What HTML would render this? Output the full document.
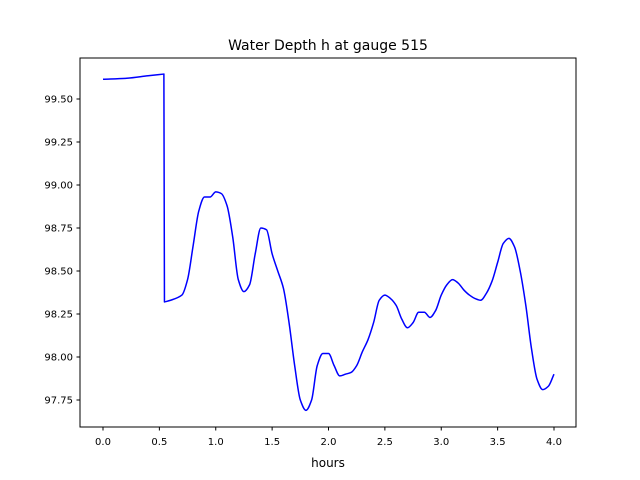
<!DOCTYPE html>
<html><head><meta charset="utf-8"><style>
body{margin:0;background:#fff}
svg{display:block;font-family:"DejaVu Sans","Liberation Sans",sans-serif}
</style></head><body>
<svg id="c" width="640" height="480">
<rect width="640" height="480" fill="#fff"/>
<text x="328" y="50" text-anchor="middle" font-size="14">Water Depth h at gauge 515</text>
<g id="plot"></g>
<rect x="80" y="58" width="496" height="369" fill="none" stroke="#000" stroke-width="1"/>
<text x="328" y="467" text-anchor="middle" font-size="12">hours</text>
</svg>
<script>
const xs=[0,0.2,0.4,0.54,0.545,0.6,0.7,0.75,0.8,0.85,0.9,0.95,1.0,1.05,1.1,1.15,1.2,1.25,1.3,1.35,1.4,1.45,1.5,1.55,1.6,1.65,1.7,1.75,1.8,1.85,1.9,1.95,2.0,2.05,2.1,2.15,2.2,2.25,2.3,2.35,2.4,2.45,2.5,2.55,2.6,2.65,2.7,2.75,2.8,2.85,2.9,2.95,3.0,3.05,3.1,3.15,3.2,3.25,3.3,3.35,3.4,3.45,3.5,3.55,3.6,3.65,3.7,3.75,3.8,3.85,3.9,3.95,4.0];
const ys=[99.615,99.62,99.635,99.645,98.32,98.33,98.36,98.45,98.65,98.85,98.93,98.93,98.96,98.95,98.88,98.7,98.45,98.38,98.42,98.6,98.75,98.74,98.6,98.5,98.4,98.2,97.95,97.75,97.69,97.75,97.95,98.02,98.02,97.95,97.89,97.9,97.91,97.95,98.03,98.1,98.2,98.33,98.36,98.34,98.3,98.22,98.17,98.2,98.26,98.26,98.23,98.27,98.36,98.42,98.45,98.43,98.39,98.36,98.34,98.33,98.37,98.44,98.55,98.66,98.69,98.64,98.5,98.3,98.05,97.87,97.81,97.83,97.9];
const xTicks=[0,0.5,1,1.5,2,2.5,3,3.5,4];
const xTickLabels=["0.0","0.5","1.0","1.5","2.0","2.5","3.0","3.5","4.0"];
const yTicks=[97.75,98,98.25,98.5,98.75,99,99.25,99.5];
const yTickLabels=["97.75","98.00","98.25","98.50","98.75","99.00","99.25","99.50"];
const X=v=>103+v*112.75, Y=v=>99-(v-99.5)*172;
const g=document.getElementById('plot'),NS='http://www.w3.org/2000/svg';
function mk(t,a){const e=document.createElementNS(NS,t);for(const k in a)e.setAttribute(k,a[k]);g.appendChild(e);return e;}
xTicks.forEach((v,i)=>{
 const l=mk('line',{x1:X(v),x2:X(v),y1:427,y2:430.5,stroke:'#000'});
 
 
 const t=mk('text',{x:X(v),y:445,'text-anchor':'middle','font-size':10});t.textContent=xTickLabels[i];
 
 
});
yTicks.forEach((v,i)=>{
 const l=mk('line',{x1:76.5,x2:80,y1:Y(v),y2:Y(v),stroke:'#000'});
 
 
 const t=mk('text',{x:73,y:Y(v)+3.5,'text-anchor':'end','font-size':10});t.textContent=yTickLabels[i];
 
 
});
// monotone cubic interpolation path
const P=xs.map((x,i)=>[X(x),Y(ys[i])]);
const n=P.length,d=[],m=[];
for(let i=0;i<n-1;i++)d.push((P[i+1][1]-P[i][1])/(P[i+1][0]-P[i][0]));
for(let i=0;i<n;i++){
 if(i==0)m.push(d[0]);else if(i==n-1)m.push(d[n-2]);
 else if(d[i-1]*d[i]<=0)m.push(0);
 else m.push(2/(1/d[i-1]+1/d[i]));
}
// keep jump segment straight
let path='M'+P[0][0]+','+P[0][1];
for(let i=0;i<n-1;i++){
 const h=P[i+1][0]-P[i][0];
 if(h<2){path+=' L'+P[i+1][0]+','+P[i+1][1];continue;}
 const m0=(i>0&&P[i][0]-P[i-1][0]<2)?d[i]:m[i];
 const m1=(i+2<n&&P[i+2][0]-P[i+1][0]<2)?d[i]:m[i+1];
 path+=' C'+(P[i][0]+h/3)+','+(P[i][1]+m0*h/3)+' '+(P[i+1][0]-h/3)+','+(P[i+1][1]-m1*h/3)+' '+P[i+1][0]+','+P[i+1][1];
}
const p=mk('path',{d:path,fill:'none',stroke:'#0000ff','stroke-width':1.5,'stroke-linejoin':'round'});


</script>
</body></html>
